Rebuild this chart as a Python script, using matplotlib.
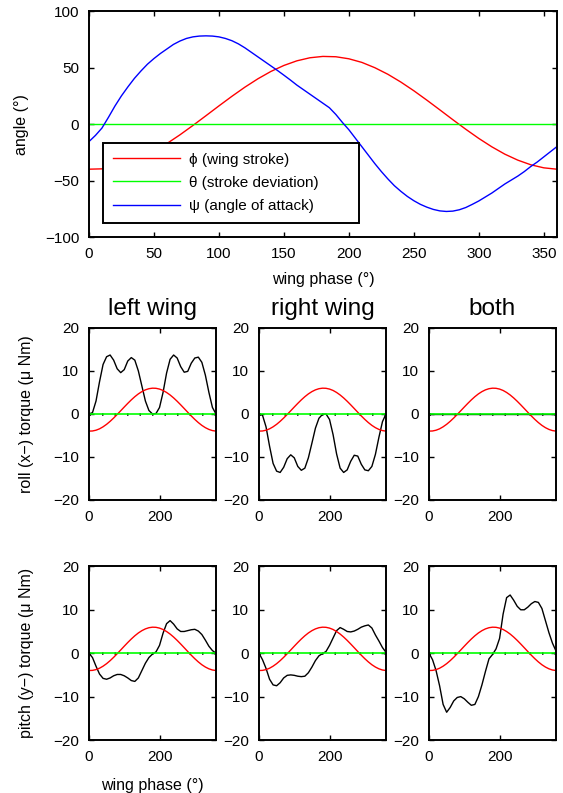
import numpy as np
import matplotlib.pyplot as plt

plt.rcParams['font.family'] = ['Liberation Sans', 'DejaVu Sans']
plt.rcParams['font.size'] = 11

# wing kinematics, read every 10 deg (psi every 5 deg) of wing phase
phase = np.arange(0, 361, 10)
phase5 = np.arange(0, 361, 5)
phi = [-39.9, -39.6, -37.8, -34.6, -29.9, -24.1, -17.2, -9.5, -1.2, 7.4,
       16.1, 24.6, 32.7, 40.1, 46.6, 51.9, 56.0, 58.7, 59.9, 59.6,
       57.8, 54.6, 49.9, 44.1, 37.2, 29.5, 21.2, 12.6, 3.9, -4.6,
       -12.7, -20.1, -26.6, -31.9, -36.0, -38.7, -39.9]
theta = [0.0] * len(phase)
psi = [-15.5, -10, -3.5, 6, 16, 25, 33, 40.5, 47, 53,
       58, 62.5, 66.5, 70.5, 73.5, 75.8, 77.2, 77.9, 78.1, 77.9,
       77.2, 75.8, 73.8, 71, 67.5, 63.5, 59.5, 55.5, 51.5, 47.5,
       43.3, 39, 34.5, 30.5, 26.5, 22.5, 18.5, 14.5, 8.5, 1.5,
       -5, -12.5, -20, -27.5, -35, -42, -48.5, -54.5, -59.5, -64,
       -67.8, -71, -73.5, -75.5, -76.8, -77.3, -77, -75.8, -73.8, -71,
       -68, -64.5, -61, -57, -53, -49.5, -46, -42, -37.5, -33.5,
       -29, -24.5, -20]

# torques (uNm)
roll_left = [0, 0.3, 3, 7.5, 11.5, 13.3, 13.7, 12.5, 10.5, 9.6,
             10.3, 12.3, 13.1, 12.5, 10, 6.5, 3, 0.8, 0, 0.1,
             1.5, 5, 9.5, 12.7, 13.7, 13, 11, 9.7, 9.9, 11.8,
             13, 13.2, 12, 9, 5, 1.5, 0]
roll_right = [0, -0.3, -3, -7.5, -11.5, -13.3, -13.6, -12.4, -10.4, -9.5,
              -10.2, -12.2, -13.1, -12.6, -10.2, -6.8, -3.3, -1.0, -0.1, 0,
              -1.3, -4.8, -9.3, -12.6, -13.6, -13, -11, -9.6, -9.8, -11.7,
              -13, -13.2, -12.2, -9.4, -5.4, -1.8, 0]
roll_both = [0.0] * len(phase)
pitch_left = [0, -1, -3, -4.8, -5.8, -6.0, -5.7, -5.2, -4.9, -4.9,
              -5.2, -5.7, -6.3, -6.5, -5.7, -4.0, -2.3, -1.0, -0.2, 0.3,
              1.8, 4.6, 6.8, 7.5, 6.7, 5.6, 5.0, 5.0, 5.2, 5.4,
              5.5, 5.1, 4.3, 3.0, 1.6, 0.6, 0]
pitch_right = [0, -1.5, -3.5, -6, -7.3, -7.5, -6.8, -5.7, -5.1, -5.0,
               -5.1, -5.3, -5.4, -5.3, -4.5, -3.2, -1.7, -0.6, -0.1, 0.4,
               1.8, 3.5, 5.2, 5.9, 5.5, 5.0, 4.9, 5.1, 5.5, 6.0,
               6.3, 6.5, 5.8, 4.2, 2.8, 1.3, 0.2]
pitch_both = [0, -1.5, -4, -7.5, -11.8, -13.6, -12.5, -11, -10.2, -10,
              -10.5, -11.3, -12, -11.8, -10, -7.3, -4.2, -1.3, -0.3, 1,
              3.4, 9, 12.8, 13.4, 12.2, 10.8, 10, 10, 10.6, 11.4,
              11.9, 11.7, 10.3, 7.5, 4.7, 2.3, 0.5]

titles = ['left wing', 'right wing', 'both']
torques = [[roll_left, roll_right, roll_both],
           [pitch_left, pitch_right, pitch_both]]
ylabels = ['roll (x\u2212) torque (\u03bc Nm)', 'pitch (y\u2212) torque (\u03bc Nm)']


def style(ax):
    ax.tick_params(direction='in', top=True, right=True, length=3.5, width=1,
                   labelsize=11, pad=7)
    for s in ax.spines.values():
        s.set_linewidth(1.4)


fig = plt.figure(figsize=(5.63, 7.93), dpi=100)

# top panel: angles
ax = fig.add_axes([0.158, 0.701, 0.831, 0.285])
ax.plot(phase, phi, color='r', lw=1.0, label='\u03d5 (wing stroke)')
ax.plot(phase, theta, color=(0, 1, 0), lw=1.0, label='\u03b8 (stroke deviation)')
ax.plot(phase5, psi, color='b', lw=1.0, label='\u03c8 (angle of attack)')
ax.set_xlim(0, 360)
ax.set_ylim(-100, 100)
ax.set_xticks(np.arange(0, 351, 50))
ax.set_yticks(np.arange(-100, 101, 50))
ax.set_yticklabels(['\u2212100', '\u221250', '0', '50', '100'])
ax.set_xlabel('wing phase (\u00b0)', labelpad=8, fontsize=11.5)
ax.set_ylabel('angle (\u00b0)', fontsize=11.5)
ax.yaxis.set_label_coords(-0.128, 0.5)
style(ax)
leg = ax.legend(loc='lower left', bbox_to_anchor=(0.030, 0.063, 0.548, 0.354),
                mode='expand', fancybox=False, framealpha=1, edgecolor='k',
                handlelength=4.4, labelspacing=0.6, borderaxespad=0,
                fontsize=11, borderpad=0.65, handletextpad=0.6)
leg.get_frame().set_linewidth(1.4)

# torque panels
lefts = [0.158, 0.460, 0.762]
bottoms = [0.3695, 0.0668]
heights = [0.217, 0.219]
for r in range(2):
    for c in range(3):
        ax = fig.add_axes([lefts[c], bottoms[r], 0.2256, heights[r]])
        ax.plot(phase, torques[r][c], color='k', lw=1.0)
        ax.plot(phase, theta, color='k', lw=1.8, dashes=(0.6, 4.4))
        ax.plot(phase, np.array(phi) / 10, color='r', lw=1.0)  # stroke angle scaled by 1/10
        ax.plot(phase, theta, color=(0, 1, 0), lw=1.2)
        ax.set_xlim(0, 360)
        ax.set_ylim(-20, 20)
        ax.set_xticks([0, 200])
        ax.set_yticks([-20, -10, 0, 10, 20])
        ax.set_yticklabels(['\u221220', '\u221210', '0', '10', '20'])
        style(ax)
        if r == 0:
            ax.set_title(titles[c], fontsize=17.5, pad=9)
        if c == 0:
            ax.set_ylabel(ylabels[r], fontsize=11.5)
            ax.yaxis.set_label_coords(-0.43, 0.5)
            if r == 1:
                ax.set_xlabel('wing phase (\u00b0)', labelpad=10, fontsize=11.5)

fig.savefig('out.png', dpi=100)
